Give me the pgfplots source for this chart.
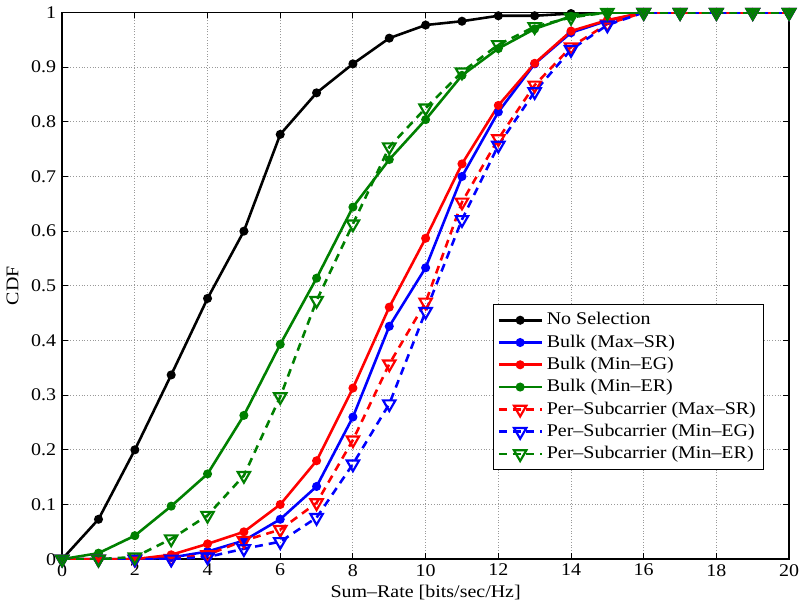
\documentclass[border=0pt]{standalone}
\usepackage{pgfplots}
\pgfplotsset{compat=1.18}
\usepackage{fontspec}
\setmainfont[FakeStretch=1.12]{Liberation Serif}
\definecolor{mgreen}{rgb}{0,0.5,0}
\begin{document}
\begin{tikzpicture}
\begin{axis}[
  scale only axis, width=367pt, height=276pt,
  xmin=0, xmax=20, ymin=0, ymax=1,
  xtick={0,2,...,20}, ytick={0,0.1,...,1.0},
  yticklabels={0,0.1,0.2,0.3,0.4,0.5,0.6,0.7,0.8,0.9,1},
  grid=major, major grid style={densely dotted, gray!80, line width=0.5pt},
  tick align=inside, tick pos=both, major tick length=3pt,
  axis line style={line width=0.8pt},
  every tick/.style={black, line width=0.5pt},
  /pgf/number format/assume math mode=true,
  tick label style={font=\fontsize{9}{10}\selectfont},
  xticklabel style={yshift=1pt},
  yticklabel style={xshift=0.5pt},
  label style={font=\fontsize{9}{10}\selectfont},
  xlabel={Sum--Rate [bits/sec/Hz]}, ylabel={CDF},
  xlabel style={yshift=2.5pt}, ylabel style={yshift=-0.5pt},
  legend style={at={(0.966,0.163)}, anchor=south east, font=\fontsize{9}{10}\selectfont, draw=black, line width=0.6pt, row sep=-0.5pt, inner sep=2pt},
  legend cell align=left,
  legend image code/.code={\draw[mark repeat=2,mark phase=2] plot coordinates {(0cm,0cm)(0.38cm,0cm)(0.76cm,0cm)};},
  every axis plot/.append style={line width=1.3pt},
]
\addplot[black, mark=*, mark size=1.6pt] coordinates {(0,0)(1,0.073)(2,0.200)(3,0.337)(4,0.477)(5,0.600)(6,0.777)(7,0.853)(8,0.906)(9,0.953)(10,0.977)(11,0.984)(12,0.994)(13,0.994)(14,0.998)(15,1)(16,1)(17,1)(18,1)(19,1)(20,1)};
\addlegendentry{No Selection}
\addplot[blue, mark=*, mark size=1.6pt] coordinates {(0,0)(1,0)(2,0)(3,0.003)(4,0.014)(5,0.034)(6,0.073)(7,0.133)(8,0.260)(9,0.426)(10,0.533)(11,0.700)(12,0.818)(13,0.906)(14,0.963)(15,0.985)(16,1)(17,1)(18,1)(19,1)(20,1)};
\addlegendentry{Bulk (Max--SR)}
\addplot[red, mark=*, mark size=1.6pt] coordinates {(0,0)(1,0)(2,0)(3,0.008)(4,0.028)(5,0.050)(6,0.100)(7,0.180)(8,0.313)(9,0.461)(10,0.587)(11,0.723)(12,0.830)(13,0.907)(14,0.966)(15,0.986)(16,1)(17,1)(18,1)(19,1)(20,1)};
\addlegendentry{Bulk (Min--EG)}
\addplot[mgreen, mark=*, mark size=1.6pt] coordinates {(0,0)(1,0.011)(2,0.043)(3,0.097)(4,0.156)(5,0.263)(6,0.393)(7,0.514)(8,0.644)(9,0.731)(10,0.804)(11,0.885)(12,0.934)(13,0.970)(14,0.993)(15,1)(16,1)(17,1)(18,1)(19,1)(20,1)};
\addlegendentry{Bulk (Min--ER)}
\addplot[red, dashed, dash pattern=on 4pt off 3pt, mark=triangle, mark size=3.6pt, mark options={solid, rotate=180, fill=white, line width=1.1pt}] coordinates {(0,0)(1,0)(2,0)(3,0.001)(4,0.008)(5,0.034)(6,0.054)(7,0.103)(8,0.218)(9,0.357)(10,0.470)(11,0.653)(12,0.769)(13,0.867)(14,0.937)(15,0.979)(16,1)(17,1)(18,1)(19,1)(20,1)};
\addlegendentry{Per--Subcarrier (Max--SR)}
\addplot[blue, dashed, dash pattern=on 4pt off 3pt, mark=triangle, mark size=3.6pt, mark options={solid, rotate=180, fill=white, line width=1.1pt}] coordinates {(0,0)(1,0)(2,0)(3,0)(4,0.004)(5,0.019)(6,0.032)(7,0.076)(8,0.174)(9,0.284)(10,0.453)(11,0.621)(12,0.757)(13,0.855)(14,0.932)(15,0.977)(16,1)(17,1)(18,1)(19,1)(20,1)};
\addlegendentry{Per--Subcarrier (Min--EG)}
\addplot[mgreen, dashed, dash pattern=on 4pt off 3pt, mark=triangle, mark size=3.6pt, mark options={solid, rotate=180, fill=white, line width=1.1pt}] coordinates {(0,0)(1,0)(2,0.004)(3,0.037)(4,0.080)(5,0.153)(6,0.297)(7,0.473)(8,0.613)(9,0.754)(10,0.825)(11,0.891)(12,0.941)(13,0.974)(14,0.991)(15,1)(16,1)(17,1)(18,1)(19,1)(20,1)};
\addlegendentry{Per--Subcarrier (Min--ER)}
\end{axis}
\pgfresetboundingbox
\path (current axis.outer south west) rectangle ([xshift=5.5pt]current axis.east |- current axis.outer north);
\end{tikzpicture}
\end{document}
